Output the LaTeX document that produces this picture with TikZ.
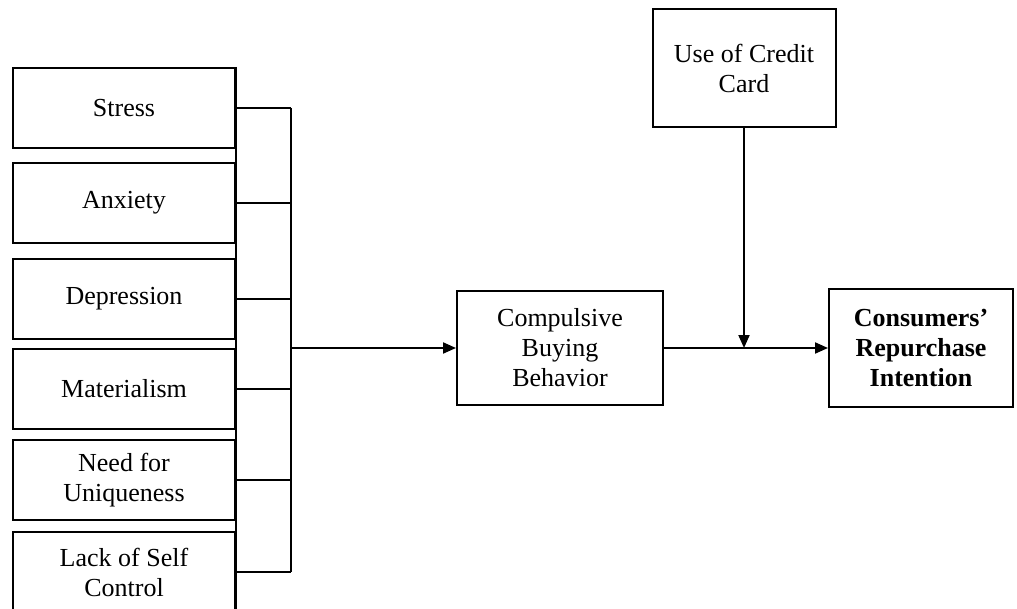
\documentclass[tikz,border=0pt]{standalone}
\usepackage{fontspec}
\setmainfont{Liberation Serif}
\usetikzlibrary{arrows.meta}
\begin{document}
\begin{tikzpicture}[x=0.5pt, y=-0.5pt, line width=1pt,
  box/.style={draw, align=center, inner sep=0pt, font=\fontsize{13}{15}\selectfont},
  factor/.style={box, minimum width=111pt, minimum height=40pt},
  tip/.style={-{Triangle[length=6.5pt,width=5.5pt]}}]
  \useasboundingbox (0,0) rectangle (1017,609);
  \clip (0,0) rectangle (1017,609);
  \node[factor] (stress) at (124,108) {Stress};
  \node[factor] (anxiety) at (124,203) {Anxiety};
  \node[factor] (depression) at (124,299) {Depression};
  \node[factor] (materialism) at (124,389) {Materialism};
  \node[factor] (uniqueness) at (124,480) {Need for\\Uniqueness};
  \node[factor] (control) at (124,572) {Lack of Self\\Control};
  \node[box, minimum width=103pt, minimum height=57pt] (comp) at (560,348) {Compulsive\\Buying\\Behavior};
  \node[box, minimum width=92pt, minimum height=59pt, font=\fontsize{13}{15}\selectfont\bfseries] (cons) at (921,348) {Consumers’\\Repurchase\\Intention};
  \node[box, minimum width=91.5pt, minimum height=59pt] (card) at (744,68) {Use of Credit\\Card};
  \coordinate (bus) at (291,348);
  \coordinate (meet) at (card.south |- comp.east);
  \draw (stress.north east) -- (control.south east);
  \foreach \f in {stress,anxiety,depression,materialism,uniqueness,control}
    \draw (\f.east) -- (\f.east -| bus);
  \draw (stress.east -| bus) -- (control.east -| bus);
  \draw[tip] (bus) -- (comp.west);
  \draw[tip] (comp.east) -- (cons.west);
  \draw[tip] (card.south) -- (meet);
\end{tikzpicture}
\end{document}
